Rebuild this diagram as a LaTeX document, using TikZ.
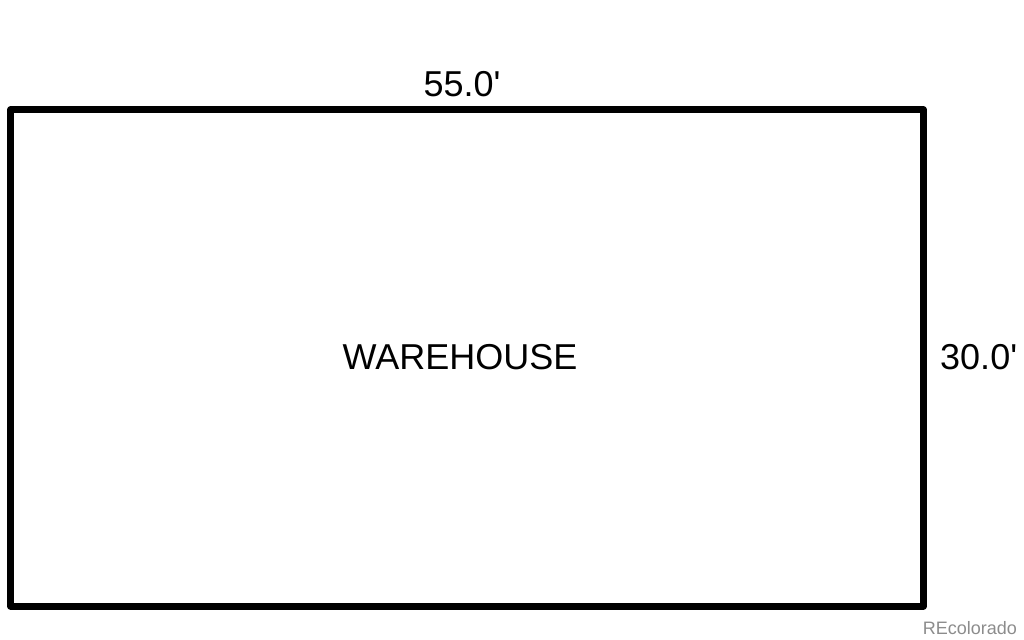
\documentclass[tikz,border=0pt]{standalone}
\usepackage{fontspec}
\setmainfont{Liberation Sans}
\begin{document}
\begin{tikzpicture}[x=1pt,y=-1pt,
    wall/.style={line width=7pt,line join=round},
    dim/.style={font=\fontsize{36}{40}\selectfont,inner sep=0pt},
    credit/.style={font=\fontsize{18}{20}\selectfont,text=black!45,inner sep=0pt}]
  \useasboundingbox (0,0) rectangle (1024,639);
  \draw[wall] (10.5,110) rectangle (923.5,606);
  \node[dim,anchor=base] (top) at (462,97) {55.0\textquotesingle};
  \node[dim] (name) at (460,357) {WAREHOUSE};
  \node[dim,anchor=west] (side) at (940,357) {30.0\textquotesingle};
  \node[credit,anchor=east] (logo) at (1017,628) {REcolorado};
\end{tikzpicture}
\end{document}
